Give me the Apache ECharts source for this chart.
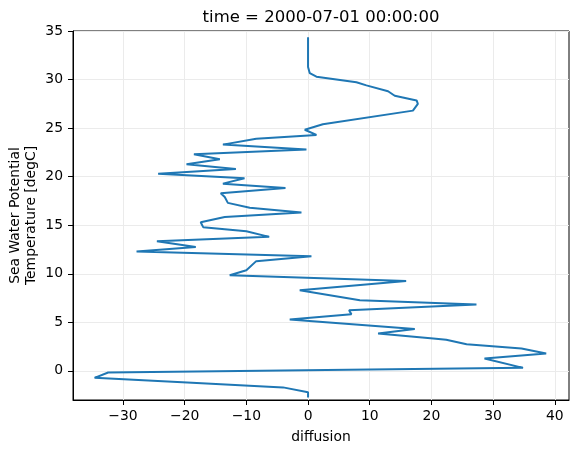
<!DOCTYPE html>
<html>
<head>
<meta charset="utf-8">
<script src="https://cdn.jsdelivr.net/npm/echarts@6/dist/echarts.min.js"></script>
<style>
  html, body { margin: 0; padding: 0; background: #fff; }
  #chart { width: 579px; height: 453px; }
</style>
</head>
<body>
<div id="chart"></div>
<script>
// diffusion (x) against temperature (y), bottom to top
const diffusion = [
  0, 0, -4.05, -19.6, -34.6, -32.4, 34.85, 28.6, 38.6, 34.6,
  25.7, 22.4, 20.3, 11.35, 17.3, -2.97, 7.03, 6.65, 27.3, 8.4,
  -1.35, 15.9, -12.7, -10.0, -8.4, 0.55, -27.8, -18.2, -24.5, -6.3,
  -10.0, -17.0, -17.4, -13.5, -1.07, -9.45, -13.0, -13.5, -14.15, -3.66,
  -13.8, -10.3, -24.3, -11.7, -19.7, -14.3, -18.5, -0.26, -13.8, -8.4,
  1.36, -0.53, 2.4, 17.0, 17.8, 17.6, 14.05, 12.97, 9.46, 7.84,
  1.36, 0.28, 0, 0
];
const temperature = [
  -2.75, -2.2, -1.7, -1.2, -0.72, -0.17, 0.31, 1.27, 1.79, 2.3,
  2.75, 3.2, 3.33, 3.85, 4.32, 5.29, 5.83, 6.24, 6.83, 7.27,
  8.3, 9.26, 9.85, 10.36, 11.3, 11.8, 12.3, 12.76, 13.35, 13.8,
  14.37, 14.8, 15.3, 15.85, 16.3, 16.8, 17.3, 17.9, 18.3, 18.83,
  19.28, 19.83, 20.3, 20.8, 21.27, 21.8, 22.3, 22.8, 23.3, 23.9,
  24.3, 24.83, 25.4, 26.8, 27.5, 27.85, 28.33, 28.8, 29.4, 29.73,
  30.3, 30.66, 31.3, 34.36
];
const xTicks = [-30, -20, -10, 0, 10, 20, 30, 40];
const yTicks = [0, 5, 10, 15, 20, 25, 30, 35];

const points = diffusion.map((d, i) => [d, temperature[i]]);
const minus = v => String(v).replace('-', '\u2212');

let myChart = echarts.init(document.getElementById('chart'));
let option = {
  animation: false,
  textStyle: { fontFamily: 'DejaVu Sans' },
  title: {
    text: 'time = 2000-07-01 00:00:00',
    left: 316,
    top: 4,
    textAlign: 'center',
    textStyle: { fontSize: 16.5, fontWeight: 'normal', color: '#000', fontFamily: 'DejaVu Sans' }
  },
  grid: {
    left: 73, right: 10, top: 31, bottom: 53,
    outerBoundsMode: 'none',
    containLabel: false,
    show: true, borderColor: '#000', borderWidth: 1
  },
  xAxis: {
    type: 'value',
    min: -38.1,
    max: 42.3,
    name: 'diffusion',
    nameLocation: 'middle',
    nameGap: 30,
    nameMoveOverlap: false,
    nameTextStyle: { fontSize: 13.9, color: '#000' },
    axisLine: { onZero: false, lineStyle: { color: '#000', width: 1 } },
    axisTick: { show: true, length: 5, customValues: xTicks, lineStyle: { color: '#000' } },
    axisLabel: { customValues: xTicks, margin: 9, fontSize: 13.9, color: '#000', formatter: minus },
    splitLine: { show: true, lineStyle: { color: '#ebebeb', width: 1 } }
  },
  yAxis: {
    type: 'value',
    min: -3,
    max: 35,
    name: 'Sea Water Potential\nTemperature [degC]',
    nameLocation: 'middle',
    nameRotate: 90,
    nameGap: 34,
    nameMoveOverlap: false,
    nameTextStyle: { fontSize: 13.9, color: '#000', lineHeight: 16 },
    axisLine: { onZero: false, lineStyle: { color: '#000', width: 1 } },
    axisTick: { show: true, length: 5, customValues: yTicks, lineStyle: { color: '#000' } },
    axisLabel: { customValues: yTicks, margin: 10, fontSize: 13.9, color: '#000', formatter: minus },
    splitLine: { show: true, lineStyle: { color: '#ebebeb', width: 1 } }
  },
  series: [
    {
      type: 'line',
      data: points,
      showSymbol: false,
      symbol: 'none',
      lineStyle: { color: '#1f77b4', width: 2 },
      z: 3
    }
  ]
};
myChart.setOption(option);
</script>
</body>
</html>
